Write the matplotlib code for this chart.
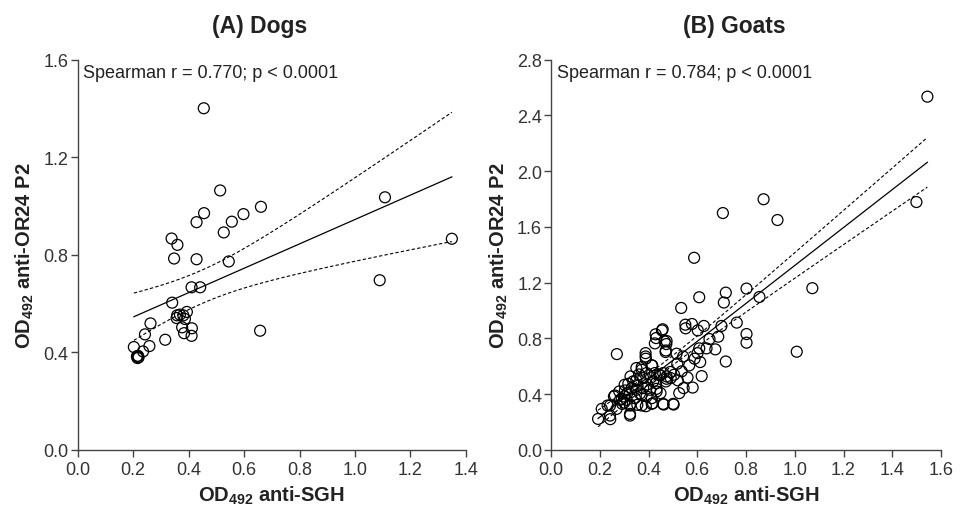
import numpy as np
import matplotlib
matplotlib.use("Agg")
import matplotlib.pyplot as plt

plt.rcParams["font.family"] = ["Liberation Sans", "DejaVu Sans"]
plt.rcParams["mathtext.fontset"] = "custom"
plt.rcParams["mathtext.rm"] = "Liberation Sans"
plt.rcParams["mathtext.bf"] = "Liberation Sans:bold"

# Dogs: OD492 anti-SGH (x) vs OD492 anti-OR24 P2 (y)
dog_x = [0.455, 0.514, 0.661, 1.108, 0.456, 0.598, 0.429, 0.556, 0.527, 0.339,
         0.360, 0.348, 0.429, 0.545, 1.349, 1.089, 0.411, 0.442, 0.341, 0.263,
         0.243, 0.259, 0.203, 0.236, 0.214, 0.216, 0.220, 0.218, 0.316, 0.359,
         0.369, 0.381, 0.394, 0.357, 0.387, 0.377, 0.384, 0.412, 0.411, 0.658]
dog_y = [1.401, 1.064, 0.997, 1.036, 0.971, 0.967, 0.934, 0.936, 0.892, 0.867,
         0.841, 0.785, 0.782, 0.773, 0.866, 0.696, 0.667, 0.667, 0.604, 0.519,
         0.474, 0.426, 0.422, 0.404, 0.384, 0.377, 0.380, 0.386, 0.452, 0.552,
         0.555, 0.552, 0.566, 0.541, 0.537, 0.503, 0.479, 0.499, 0.468, 0.489]

# Goats
goat_x = [1.544, 1.499, 0.872, 0.705, 0.929, 0.587, 1.072, 0.802, 0.717, 0.608,
          0.855, 0.709, 0.534, 0.762, 0.699, 0.627, 0.578, 0.551, 0.552, 0.602,
          0.686, 0.650, 0.802, 0.802, 1.008, 0.455, 0.429, 0.431, 0.426, 0.466,
          0.473, 0.470, 0.388, 0.388, 0.270, 0.515, 0.542, 0.518, 0.567, 0.612,
          0.601, 0.608, 0.638, 0.674, 0.717, 0.589, 0.618, 0.581, 0.544, 0.526,
          0.503, 0.462, 0.418, 0.389, 0.354, 0.324, 0.324, 0.292, 0.269, 0.232,
          0.243, 0.193, 0.258, 0.299, 0.302, 0.326, 0.350, 0.372, 0.361, 0.337,
          0.331, 0.351, 0.378, 0.372, 0.392, 0.413, 0.406, 0.419, 0.415, 0.392,
          0.426, 0.444, 0.460, 0.474, 0.491, 0.471, 0.433, 0.449, 0.378, 0.313,
          0.283, 0.310, 0.344, 0.372, 0.413, 0.447, 0.474, 0.317, 0.303, 0.433,
          0.262, 0.290, 0.324, 0.372, 0.413, 0.460, 0.501, 0.242, 0.208, 0.242,
          0.324, 0.536, 0.389, 0.471, 0.458, 0.474, 0.355, 0.395, 0.430, 0.505,
          0.520, 0.560, 0.490, 0.280, 0.300, 0.350, 0.410, 0.365]
goat_y = [2.535, 1.779, 1.799, 1.700, 1.650, 1.379, 1.161, 1.158, 1.129, 1.096,
          1.098, 1.058, 1.019, 0.914, 0.890, 0.890, 0.904, 0.899, 0.873, 0.858,
          0.813, 0.796, 0.832, 0.770, 0.705, 0.858, 0.830, 0.803, 0.765, 0.779,
          0.760, 0.703, 0.695, 0.671, 0.688, 0.691, 0.671, 0.619, 0.607, 0.631,
          0.695, 0.729, 0.729, 0.722, 0.635, 0.655, 0.530, 0.448, 0.444, 0.408,
          0.326, 0.326, 0.336, 0.314, 0.324, 0.326, 0.247, 0.331, 0.295, 0.319,
          0.221, 0.223, 0.384, 0.384, 0.468, 0.528, 0.588, 0.576, 0.542, 0.492,
          0.444, 0.432, 0.444, 0.396, 0.384, 0.372, 0.432, 0.492, 0.607, 0.552,
          0.552, 0.540, 0.552, 0.528, 0.516, 0.492, 0.420, 0.408, 0.516, 0.408,
          0.360, 0.360, 0.372, 0.595, 0.607, 0.535, 0.511, 0.475, 0.427, 0.439,
          0.391, 0.367, 0.319, 0.319, 0.331, 0.331, 0.331, 0.319, 0.295, 0.247,
          0.259, 0.564, 0.655, 0.714, 0.866, 0.782, 0.460, 0.470, 0.480, 0.540,
          0.500, 0.520, 0.560, 0.420, 0.340, 0.500, 0.520, 0.405]

titles = ["(A) Dogs", "(B) Goats"]
stats = ["Spearman r = 0.770; p < 0.0001", "Spearman r = 0.784; p < 0.0001"]
x_ticks = [np.arange(0, 1.41, 0.2), np.arange(0, 1.61, 0.2)]
y_ticks = [np.arange(0, 1.61, 0.4), np.arange(0, 2.81, 0.4)]
t_crit = [2.02, 1.98]


def reg_band(x, y, t):
    x = np.asarray(x)
    y = np.asarray(y)
    n = len(x)
    b, a = np.polyfit(x, y, 1)
    xs = np.linspace(x.min(), x.max(), 100)
    fit = a + b * xs
    s = np.sqrt(np.sum((y - (a + b * x)) ** 2) / (n - 2))
    sxx = np.sum((x - x.mean()) ** 2)
    se = s * np.sqrt(1 / n + (xs - x.mean()) ** 2 / sxx)
    return xs, fit, fit - t * se, fit + t * se


fig = plt.figure(figsize=(9.62, 5.06), dpi=100)
ax1 = fig.add_axes([0.0806, 0.1087, 0.4038, 0.7713])
ax2 = fig.add_axes([0.5728, 0.1087, 0.4054, 0.7713])

data = [(dog_x, dog_y), (goat_x, goat_y)]
for i, ax in enumerate([ax1, ax2]):
    x, y = data[i]
    ax.scatter(x, y, s=62, facecolors="none", edgecolors="black", linewidths=0.9, zorder=3)
    xs, fit, lo, hi = reg_band(x, y, t_crit[i])
    ax.plot(xs, fit, color="black", lw=0.9)
    ax.plot(xs, lo, color="black", lw=0.8, ls=(0, (3, 2)))
    ax.plot(xs, hi, color="black", lw=0.8, ls=(0, (3, 2)))

    ax.set_xlim(0, x_ticks[i][-1])
    ax.set_ylim(0, y_ticks[i][-1])
    ax.set_xticks(x_ticks[i])
    ax.set_yticks(y_ticks[i])
    ax.set_xticklabels([f"{v:.1f}" for v in x_ticks[i]])
    ax.set_yticklabels([f"{v:.1f}" for v in y_ticks[i]])
    for side in ["top", "right"]:
        ax.spines[side].set_visible(False)
    for side in ["left", "bottom"]:
        ax.spines[side].set_color("#444444")
        ax.spines[side].set_linewidth(1.0)
    ax.tick_params(direction="out", length=5, width=1.0, color="#444444",
                   labelsize=13, labelcolor="#333333", pad=1.5)
    ax.tick_params(axis="x", pad=3)
    ax.set_xlabel(r"OD$_{\mathbf{492}}$ anti-SGH", fontsize=14.5, fontweight="bold",
                  color="#222222", labelpad=4)
    ax.set_ylabel(r"OD$_{\mathbf{492}}$ anti-OR24 P2", fontsize=14.5, fontweight="bold",
                  color="#222222", labelpad=5)
    ax.set_title(titles[i], fontsize=16.5, fontweight="bold", color="#222222",
                 x=0.47, pad=20)
    ax.text(0.015, 0.99, stats[i], transform=ax.transAxes, fontsize=13,
            color="#222222", va="top", ha="left")

fig.savefig("out.png", dpi=100)
